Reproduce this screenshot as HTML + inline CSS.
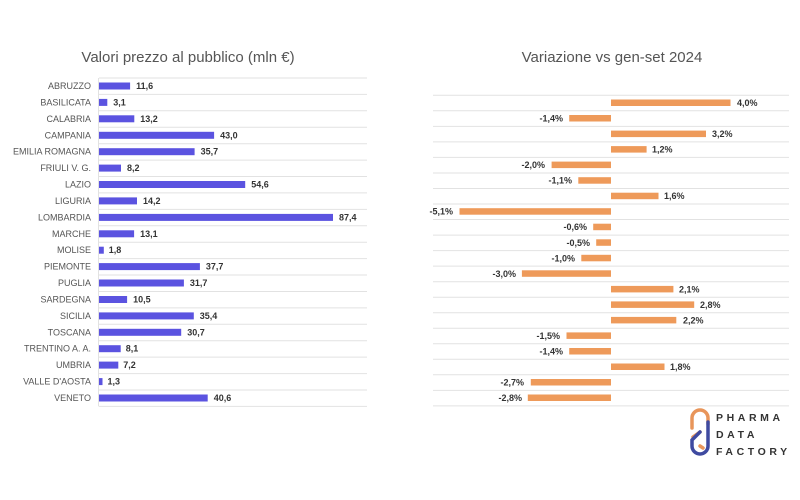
<!DOCTYPE html>
<html><head><meta charset="utf-8"><style>
body{margin:0;background:#fff;width:800px;height:500px;overflow:hidden}
svg{display:block}
.c{font:9px "Liberation Sans",sans-serif;fill:#555;text-anchor:end}
.v{font:bold 9px "Liberation Sans",sans-serif;fill:#333}
.t{font:15px "Liberation Sans",sans-serif;fill:#555;text-anchor:middle}
.g line{stroke:#e2e2e2;stroke-width:1}
.b rect{fill:#5b53e0}
.o rect{fill:#ee9a5a}
</style></head><body>
<svg width="800" height="500" viewBox="0 0 800 500">
<text class="t" x="188" y="62">Valori prezzo al pubblico (mln €)</text>
<text class="t" x="612" y="62">Variazione vs gen-set 2024</text>
<g class="g">
<line x1="99" x2="367" y1="78" y2="78"/><line x1="99" x2="367" y1="94.4" y2="94.4"/><line x1="99" x2="367" y1="110.8" y2="110.8"/><line x1="99" x2="367" y1="127.3" y2="127.3"/><line x1="99" x2="367" y1="143.7" y2="143.7"/><line x1="99" x2="367" y1="160.1" y2="160.1"/><line x1="99" x2="367" y1="176.5" y2="176.5"/><line x1="99" x2="367" y1="192.9" y2="192.9"/><line x1="99" x2="367" y1="209.4" y2="209.4"/><line x1="99" x2="367" y1="225.8" y2="225.8"/><line x1="99" x2="367" y1="242.2" y2="242.2"/><line x1="99" x2="367" y1="258.6" y2="258.6"/><line x1="99" x2="367" y1="275" y2="275"/><line x1="99" x2="367" y1="291.5" y2="291.5"/><line x1="99" x2="367" y1="307.9" y2="307.9"/><line x1="99" x2="367" y1="324.3" y2="324.3"/><line x1="99" x2="367" y1="340.7" y2="340.7"/><line x1="99" x2="367" y1="357.1" y2="357.1"/><line x1="99" x2="367" y1="373.6" y2="373.6"/><line x1="99" x2="367" y1="390" y2="390"/><line x1="99" x2="367" y1="406.4" y2="406.4"/>
<line x1="98.5" x2="98.5" y1="78" y2="406.4"/>
<line x1="433" x2="789" y1="95.3" y2="95.3"/><line x1="433" x2="789" y1="110.8" y2="110.8"/><line x1="433" x2="789" y1="126.4" y2="126.4"/><line x1="433" x2="789" y1="141.9" y2="141.9"/><line x1="433" x2="789" y1="157.4" y2="157.4"/><line x1="433" x2="789" y1="173" y2="173"/><line x1="433" x2="789" y1="188.5" y2="188.5"/><line x1="433" x2="789" y1="204" y2="204"/><line x1="433" x2="789" y1="219.5" y2="219.5"/><line x1="433" x2="789" y1="235.1" y2="235.1"/><line x1="433" x2="789" y1="250.6" y2="250.6"/><line x1="433" x2="789" y1="266.1" y2="266.1"/><line x1="433" x2="789" y1="281.7" y2="281.7"/><line x1="433" x2="789" y1="297.2" y2="297.2"/><line x1="433" x2="789" y1="312.7" y2="312.7"/><line x1="433" x2="789" y1="328.2" y2="328.2"/><line x1="433" x2="789" y1="343.8" y2="343.8"/><line x1="433" x2="789" y1="359.3" y2="359.3"/><line x1="433" x2="789" y1="374.8" y2="374.8"/><line x1="433" x2="789" y1="390.4" y2="390.4"/><line x1="433" x2="789" y1="405.9" y2="405.9"/>
</g>
<g class="c">
<text x="91" y="89">ABRUZZO</text><text x="91" y="105.4">BASILICATA</text><text x="91" y="121.8">CALABRIA</text><text x="91" y="138.3">CAMPANIA</text><text x="91" y="154.7">EMILIA ROMAGNA</text><text x="91" y="171.1">FRIULI V. G.</text><text x="91" y="187.5">LAZIO</text><text x="91" y="203.9">LIGURIA</text><text x="91" y="220.4">LOMBARDIA</text><text x="91" y="236.8">MARCHE</text><text x="91" y="253.2">MOLISE</text><text x="91" y="269.6">PIEMONTE</text><text x="91" y="286">PUGLIA</text><text x="91" y="302.5">SARDEGNA</text><text x="91" y="318.9">SICILIA</text><text x="91" y="335.3">TOSCANA</text><text x="91" y="351.7">TRENTINO A. A.</text><text x="91" y="368.1">UMBRIA</text><text x="91" y="384.6">VALLE D'AOSTA</text><text x="91" y="401">VENETO</text>
</g>
<g class="b">
<rect x="99" y="82.5" width="31.1" height="7"/><rect x="99" y="98.9" width="8.3" height="7"/><rect x="99" y="115.3" width="35.3" height="7"/><rect x="99" y="131.8" width="115.1" height="7"/><rect x="99" y="148.2" width="95.6" height="7"/><rect x="99" y="164.6" width="22" height="7"/><rect x="99" y="181" width="146.2" height="7"/><rect x="99" y="197.4" width="38" height="7"/><rect x="99" y="213.9" width="234" height="7"/><rect x="99" y="230.3" width="35.1" height="7"/><rect x="99" y="246.7" width="4.8" height="7"/><rect x="99" y="263.1" width="100.9" height="7"/><rect x="99" y="279.5" width="84.9" height="7"/><rect x="99" y="296" width="28.1" height="7"/><rect x="99" y="312.4" width="94.8" height="7"/><rect x="99" y="328.8" width="82.2" height="7"/><rect x="99" y="345.2" width="21.7" height="7"/><rect x="99" y="361.6" width="19.3" height="7"/><rect x="99" y="378.1" width="3.5" height="7"/><rect x="99" y="394.5" width="108.7" height="7"/>
</g>
<g class="v">
<text x="136.1" y="89">11,6</text><text x="113.3" y="105.4">3,1</text><text x="140.3" y="121.8">13,2</text><text x="220.1" y="138.3">43,0</text><text x="200.6" y="154.7">35,7</text><text x="127" y="171.1">8,2</text><text x="251.2" y="187.5">54,6</text><text x="143" y="203.9">14,2</text><text x="339" y="220.4">87,4</text><text x="140.1" y="236.8">13,1</text><text x="108.8" y="253.2">1,8</text><text x="205.9" y="269.6">37,7</text><text x="189.9" y="286">31,7</text><text x="133.1" y="302.5">10,5</text><text x="199.8" y="318.9">35,4</text><text x="187.2" y="335.3">30,7</text><text x="125.7" y="351.7">8,1</text><text x="123.3" y="368.1">7,2</text><text x="107.5" y="384.6">1,3</text><text x="213.7" y="401">40,6</text>
</g>
<g class="o">
<rect x="611" y="99.5" width="119.5" height="6.5"/><rect x="569.2" y="115" width="41.8" height="6.5"/><rect x="611" y="130.6" width="95" height="6.5"/><rect x="611" y="146.1" width="35.6" height="6.5"/><rect x="551.6" y="161.6" width="59.4" height="6.5"/><rect x="578.3" y="177.2" width="32.7" height="6.5"/><rect x="611" y="192.7" width="47.5" height="6.5"/><rect x="459.5" y="208.2" width="151.5" height="6.5"/><rect x="593.2" y="223.7" width="17.8" height="6.5"/><rect x="596.2" y="239.3" width="14.8" height="6.5"/><rect x="581.3" y="254.8" width="29.7" height="6.5"/><rect x="521.9" y="270.3" width="89.1" height="6.5"/><rect x="611" y="285.9" width="62.4" height="6.5"/><rect x="611" y="301.4" width="83.2" height="6.5"/><rect x="611" y="316.9" width="65.3" height="6.5"/><rect x="566.5" y="332.4" width="44.5" height="6.5"/><rect x="569.2" y="348" width="41.8" height="6.5"/><rect x="611" y="363.5" width="53.5" height="6.5"/><rect x="530.8" y="379" width="80.2" height="6.5"/><rect x="527.8" y="394.5" width="83.2" height="6.5"/>
</g>
<g class="v">
<text x="737" y="106">4,0%</text><text x="563" y="121.5" text-anchor="end">-1,4%</text><text x="712" y="137.1">3,2%</text><text x="652" y="152.6">1,2%</text><text x="545" y="168.1" text-anchor="end">-2,0%</text><text x="572" y="183.7" text-anchor="end">-1,1%</text><text x="664" y="199.2">1,6%</text><text x="453" y="214.7" text-anchor="end">-5,1%</text><text x="587" y="230.2" text-anchor="end">-0,6%</text><text x="590" y="245.8" text-anchor="end">-0,5%</text><text x="575" y="261.3" text-anchor="end">-1,0%</text><text x="516" y="276.8" text-anchor="end">-3,0%</text><text x="679" y="292.4">2,1%</text><text x="700" y="307.9">2,8%</text><text x="683" y="323.4">2,2%</text><text x="560" y="338.9" text-anchor="end">-1,5%</text><text x="563" y="354.5" text-anchor="end">-1,4%</text><text x="670" y="370">1,8%</text><text x="524" y="385.5" text-anchor="end">-2,7%</text><text x="522" y="401" text-anchor="end">-2,8%</text>
</g>
<g fill="none" stroke-width="3.5" stroke-linecap="round">
<path d="M692 428 L692 418 A8 8 0 0 1 708 418 L708 424" stroke="#e8955a"/>
<path d="M693 437 L700 432" stroke="#e8955a"/>
<path d="M708 422 L708 446 A8 8 0 0 1 692 446 L692 440 L700 432" stroke="#3f4aa0"/>
<path d="M700 446 L703 448" stroke="#e8955a"/>
</g>
<g style="font:bold 10.5px 'Liberation Sans',sans-serif;fill:#333;letter-spacing:3.6px">
<text x="716" y="421">PHARMA</text><text x="716" y="438">DATA</text><text x="716" y="455">FACTORY</text>
</g>
</svg>
</body></html>
